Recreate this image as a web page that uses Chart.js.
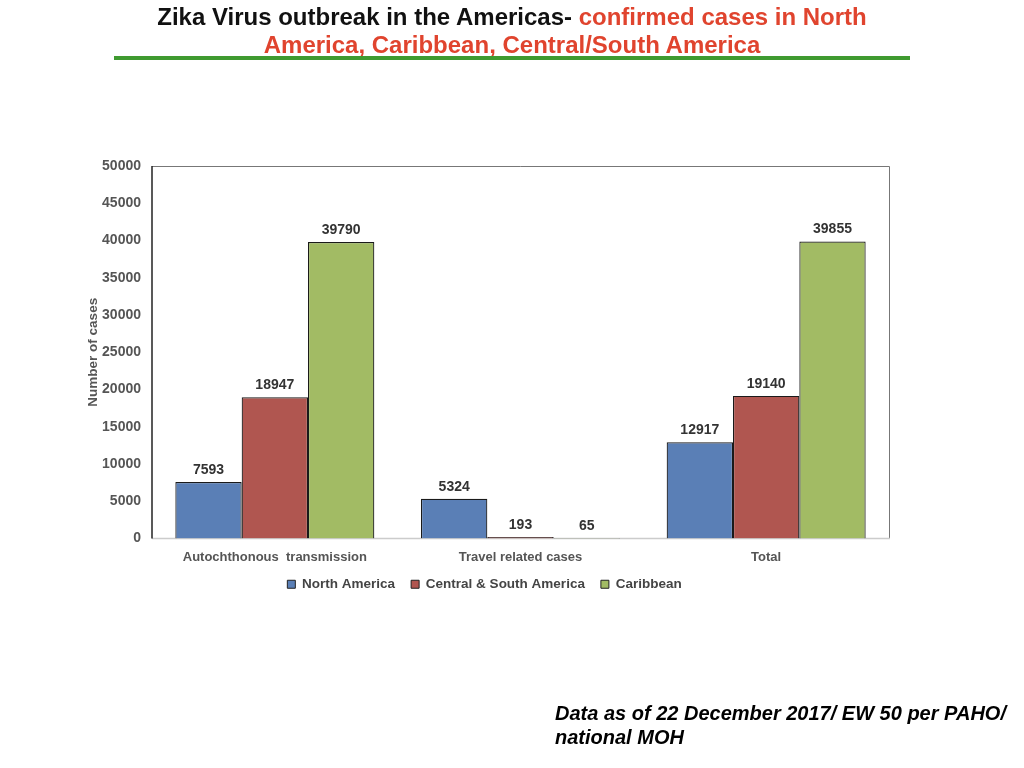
<!DOCTYPE html>
<html>
<head>
<meta charset="utf-8">
<script src="https://cdn.jsdelivr.net/npm/chart.js@4/dist/chart.umd.min.js"></script>
<style>
  html, body { margin: 0; padding: 0; background: #fff; width: 1024px; height: 768px; overflow: hidden; }
  #title { position: absolute; left: 0; top: 3px; width: 1024px; text-align: center;
    font-family: "Liberation Sans", Arial, sans-serif; font-weight: bold;
    font-size: 24px; line-height: 28px; color: #111; }
  #title .red { color: #e0442e; }
  #rule { position: absolute; left: 114px; top: 56px; width: 796px; height: 4px; background: #3f9a30; }
  #foot { position: absolute; left: 555px; top: 701px; font-family: "Liberation Sans", Arial, sans-serif;
    font-weight: bold; font-style: italic; font-size: 20px; line-height: 24px; color: #000; }
  #wrap { position: absolute; left: 0; top: 0; width: 1024px; height: 768px; }
</style>
</head>
<body>
<div id="wrap"><canvas id="c" width="1024" height="768"></canvas></div>
<div id="title">Zika Virus outbreak in the Americas- <span class="red">confirmed cases in North</span><br><span class="red">America, Caribbean, Central/South America</span></div>
<div id="rule"></div>
<div id="foot">Data as of 22 December 2017/ EW 50 per PAHO/<br>national MOH</div>
<script>
const categories = ["Autochthonous  transmission", "Travel related cases", "Total"];
const seriesNames = ["North America", "Central & South America", "Caribbean"];
const northAmerica = [7593, 5324, 12917];
const centralSouthAmerica = [18947, 193, 19140];
const caribbean = [39790, 65, 39855];
const yTicks = [0, 5000, 10000, 15000, 20000, 25000, 30000, 35000, 40000, 45000, 50000];

const colors = ["#5a7fb6", "#b05650", "#a2bb64"];
const FONT = "'Liberation Sans', Arial, sans-serif";

const valueLabels = {
  id: "valueLabels",
  afterDatasetsDraw(chart) {
    const ctx = chart.ctx;
    ctx.save();
    ctx.font = "bold 14px " + FONT;
    ctx.fillStyle = "#333";
    ctx.textAlign = "center";
    ctx.textBaseline = "bottom";
    chart.data.datasets.forEach((ds, i) => {
      const meta = chart.getDatasetMeta(i);
      meta.data.forEach((el, j) => {
        ctx.fillText(String(ds.data[j]), el.x, el.y - 5);
      });
    });
    ctx.restore();
  }
};

const frame = {
  id: "frame",
  beforeDatasetsDraw(chart) {
    const a = chart.chartArea, ctx = chart.ctx;
    ctx.save();
    ctx.lineWidth = 1;
    ctx.strokeStyle = "#777";
    ctx.beginPath();
    ctx.moveTo(a.left, a.top + 0.5); ctx.lineTo(a.right + 0.5, a.top + 0.5); ctx.lineTo(a.right + 0.5, a.bottom);
    ctx.stroke();
    ctx.strokeStyle = "#ccc";
    ctx.lineWidth = 1.5;
    ctx.beginPath();
    ctx.moveTo(a.left, a.bottom); ctx.lineTo(a.right + 1, a.bottom);
    ctx.stroke();
    ctx.strokeStyle = "#222";
    ctx.lineWidth = 1.5;
    ctx.beginPath();
    ctx.moveTo(a.left, a.top); ctx.lineTo(a.left, a.bottom);
    ctx.stroke();
    ctx.restore();
  }
};

new Chart(document.getElementById("c"), {
  type: "bar",
  data: {
    labels: categories,
    datasets: [northAmerica, centralSouthAmerica, caribbean].map((d, i) => ({
      label: seriesNames[i],
      data: d,
      backgroundColor: colors[i],
      borderColor: "#1a1a1a",
      borderWidth: 1.2,
      borderSkipped: "bottom",
      categoryPercentage: 0.81,
      barPercentage: 1.0
    }))
  },
  options: {
    responsive: false,
    animation: false,
    devicePixelRatio: 1,
    layout: { padding: { left: 80, top: 166, right: 135, bottom: 167 } },
    plugins: {
      tooltip: { enabled: false },
      legend: {
        position: "bottom",
        labels: {
          font: { family: FONT, size: 13.5, weight: "bold" },
          color: "#444",
          boxWidth: 8, boxHeight: 8,
          padding: 16,
          generateLabels(chart) {
            return chart.data.datasets.map((ds, i) => ({
              text: ds.label, fillStyle: ds.backgroundColor, strokeStyle: "#222",
              lineWidth: 1, datasetIndex: i, fontColor: "#444"
            }));
          }
        }
      }
    },
    scales: {
      x: {
        grid: { display: false, drawTicks: false },
        border: { display: false },
        ticks: { font: { family: FONT, size: 13, weight: "bold" }, color: "#555", padding: 11 },
        afterFit(s) { s.height = 23; }
      },
      y: {
        min: 0, max: 50000,
        grid: { display: false, drawTicks: false },
        border: { display: false },
        afterBuildTicks(s) { s.ticks = yTicks.map(v => ({ value: v })); },
        ticks: { font: { family: FONT, size: 14, weight: "bold" }, color: "#555", padding: 11,
          callback: (v) => String(v) },
        title: { display: true, text: "Number of cases", font: { family: FONT, size: 13.5, weight: "bold" }, color: "#555", padding: { top: 5, bottom: 0 } },
        afterFit(s) { s.width = 72; }
      }
    }
  },
  plugins: [frame, valueLabels]
});
</script>
</body>
</html>
